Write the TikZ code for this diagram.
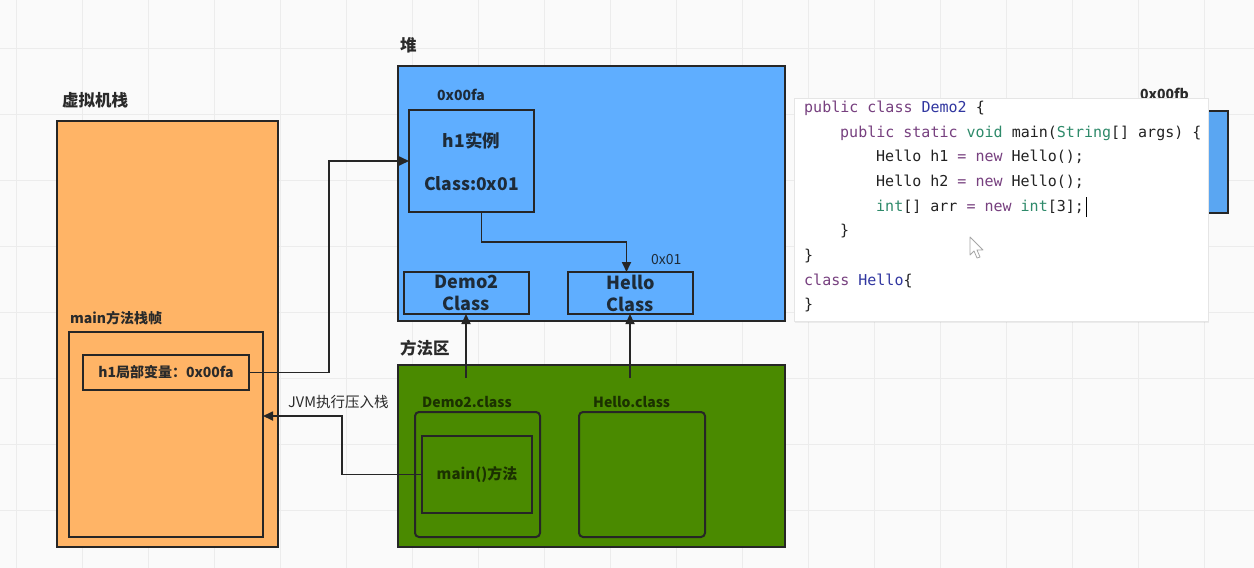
\documentclass[tikz,border=0pt]{standalone}
\usepackage{fontspec}
\setmainfont{Noto Sans CJK SC}
\newfontfamily\codefont{DejaVu Sans Mono}
\usetikzlibrary{arrows.meta,calc,shadows}
\definecolor{bgc}{HTML}{FAFAFA}
\definecolor{gridc}{HTML}{ECECEC}
\definecolor{linec}{HTML}{262626}
\definecolor{orangec}{HTML}{FFB466}
\definecolor{bluec}{HTML}{5FAEFF}
\definecolor{blueb}{HTML}{5AA6F2}
\definecolor{greenc}{HTML}{4A8A00}
\definecolor{txtc}{HTML}{2A2A2A}
\definecolor{bluetxt}{HTML}{1E2B38}
\definecolor{greentxt}{HTML}{1B3100}
\definecolor{kwc}{HTML}{77407F}
\definecolor{clc}{HTML}{3036A0}
\definecolor{tyc}{HTML}{2E8A6A}
\definecolor{codec}{HTML}{222222}
\newcommand\ckw[1]{\textcolor{kwc}{#1}}
\newcommand\ccl[1]{\textcolor{clc}{#1}}
\newcommand\cty[1]{\textcolor{tyc}{#1}}
\begin{document}
\begin{tikzpicture}[x=1pt,y=-1pt,
  box/.style={draw=linec, line width=2pt, anchor=north west, inner sep=0pt, outer sep=0pt},
  rbox/.style={box, rounded corners=4pt},
  title/.style={font=\bfseries\fontsize{16.5}{16.5}\selectfont, text=txtc, anchor=west, inner sep=0pt},
  lab/.style={font=\bfseries\fontsize{14}{14}\selectfont, anchor=west, inner sep=0pt},
  conn/.style={draw=linec, line width=1.7pt, -{Triangle[length=10pt,width=9pt]}},
  codeline/.style={anchor=west, inner sep=0pt, text=codec, font=\codefont\fontsize{15}{15}\selectfont}
]
\useasboundingbox (0,0) rectangle (1254,568);
\fill[bgc] (0,0) rectangle (1254,568);
\foreach \x in {16,82,...,1254} \draw[gridc, line width=1pt] (\x,0) -- (\x,568);
\foreach \y in {48,114,...,568} \draw[gridc, line width=1pt] (0,\y) -- (1254,\y);

% JVM stack
\node[title] (vmlab) at (62,100) {虚拟机栈};
\node[box, fill=orangec, minimum width=221, minimum height=426] (vm) at (57,121) {};
\node[lab, text=txtc] (framelab) at (70,318) {main方法栈帧};
\node[box, minimum width=194, minimum height=205] (frame) at (69,332) {};
\node[box, minimum width=166, minimum height=35, font=\bfseries\fontsize{14}{14}\selectfont, text=txtc] (h1var) at (83,355) {h1局部变量：0x00fa};

% heap
\node[title] (heaplab) at (400,45) {堆};
\node[box, fill=bluec, minimum width=387, minimum height=255] (heap) at (398,66) {};
\node[lab, text=bluetxt] (addr) at (437,95) {0x00fa};
\node[box, minimum width=125, minimum height=102, align=center, text=bluetxt,
      font=\bfseries\fontsize{17.5}{43}\selectfont] (inst) at (409,110) {h1实例\\Class:0x01};
\node[box, minimum width=125, minimum height=42, align=center, text=bluetxt,
      font=\bfseries\fontsize{18}{22}\selectfont] (democ) at (404,272) {Demo2\\Class};
\node[box, minimum width=125, minimum height=42, align=center, text=bluetxt,
      font=\bfseries\fontsize{18}{22}\selectfont] (helloc) at (568,272) {Hello\\Class};
\node[anchor=west, inner sep=0pt, text=bluetxt, font=\fontsize{14}{14}\selectfont] (a01) at (651,260) {0x01};

% method area
\node[title] (malab) at (400,348) {方法区};
\node[box, fill=greenc, minimum width=387, minimum height=182] (ma) at (398,365) {};
\node[lab, text=greentxt] (dclab) at (422,402) {Demo2.class};
\node[rbox, minimum width=125, minimum height=125] (dcls) at (415,412) {};
\node[box, minimum width=110, minimum height=77, text=greentxt,
      font=\bfseries\fontsize{15}{15}\selectfont] (mainm) at (422,436) {main()方法};
\node[lab, text=greentxt] (hclab) at (593,402) {Hello.class};
\node[rbox, minimum width=126, minimum height=125] (hcls) at (579,412) {};

% far right object
\node[lab, text=txtc] (fblab) at (1140,94) {0x00fb};
\node[box, fill=blueb, minimum width=120, minimum height=102] (fb) at (1108,111) {};

% connectors
\draw[conn] (h1var.east) -- ++(80,0) |- (inst.west);
\draw[conn] ([xshift=10pt]inst.south) -- ++(0,30) -| ([xshift=-4pt]helloc.north);
\coordinate (dstart) at (466,378);
\coordinate (hstart) at (630,378);
\draw[conn] (dstart) -- (dstart |- democ.south);
\draw[conn] (hstart) -- (hstart |- helloc.south);
\coordinate (jvmin) at (263,416);
\draw[conn] (mainm.west) -- ++(-80,0) |- (jvmin);
\node[anchor=west, inner sep=0pt, text=txtc, font=\fontsize{14.5}{14.5}\selectfont] (jvmlab) at (288,402) {JVM执行压入栈};

% code popup
\node[anchor=north west, inner sep=0pt, minimum width=414, minimum height=223, fill=white, draw=gray!20,
      drop shadow={opacity=0.12, shadow xshift=1pt, shadow yshift=-1.5pt}] (popup) at (794,98) {};
\node[codeline] (c1) at (804,108) {\ckw{public class} \ccl{Demo2} \{};
\node[codeline] (c2) at (840,133) {\ckw{public static} \cty{void} main(\cty{String}[] args) \{};
\node[codeline] (c3) at (876,157) {Hello h1 \ckw{=} \ckw{new} Hello();};
\node[codeline] (c4) at (876,182) {Hello h2 \ckw{=} \ckw{new} Hello();};
\node[codeline] (c5) at (876,207) {\cty{int}[] arr \ckw{=} \ckw{new} \cty{int}[3];};
\node[codeline] (c6) at (840,231) {\}};
\node[codeline] (c7) at (804,256) {\}};
\node[codeline] (c8) at (804,281) {\ckw{class} \ccl{Hello}\{};
\node[codeline] (c9) at (804,305) {\}};
\draw[black, line width=1pt] ([xshift=2pt,yshift=-10pt]c5.east) -- ([xshift=2pt,yshift=10pt]c5.east);
% mouse pointer
\draw[fill=white, draw=gray!70, line width=0.8pt, line join=round]
  (970,237) -- (970,255) -- (974,251) -- (977,258) -- (980,257) -- (977,250) -- (983,250) -- cycle;
\end{tikzpicture}
\end{document}
